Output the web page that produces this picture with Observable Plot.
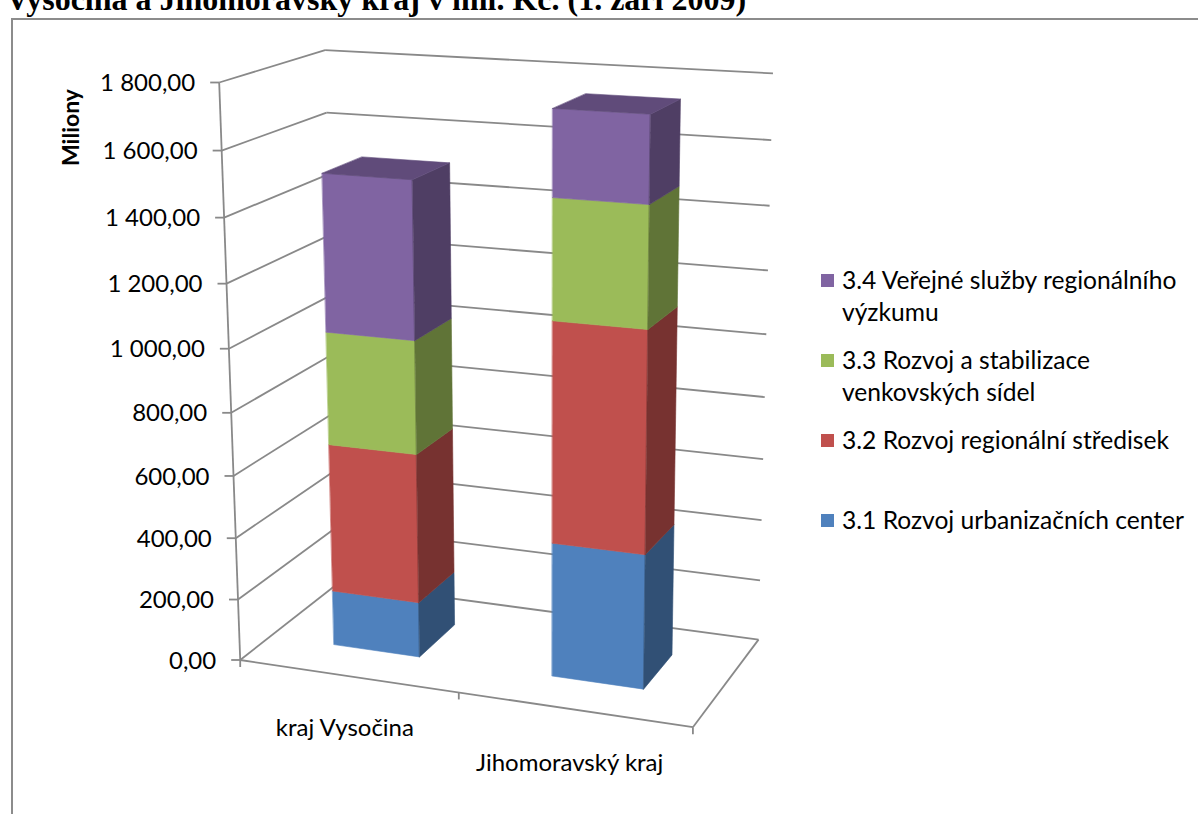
<!DOCTYPE html>
<html lang="cs">
<head>
<meta charset="utf-8">
<script src="https://cdn.jsdelivr.net/npm/d3@7"></script>
<script src="https://cdn.jsdelivr.net/npm/@observablehq/plot@0.6"></script>
<style>
  html, body { margin:0; padding:0; background:#fff; }
  #wrap { position:relative; width:1198px; height:814px; overflow:hidden; background:#fff; font-family: Lato, "Open Sans", sans-serif; color:#000; }
  #title { position:absolute; left:6px; top:-17px; font: bold 32px/32px "Liberation Serif", "Times New Roman", serif; white-space:nowrap; }
  #frame { position:absolute; left:11px; top:18px; width:1400px; height:1000px; border-left:2px solid #8c8c8c; border-top:2px solid #8c8c8c; }
  #chart { position:absolute; left:0; top:0; }
  #legend { position:absolute; left:821px; top:0; width:377px; height:814px; }
  .item { position:absolute; left:0; }
  .sw { position:absolute; left:0; top:10px; width:13px; height:13px; }
  .lab { position:absolute; left:21px; top:0; width:352px; font-size:24.6px; line-height:32px; white-space:normal; }
</style>
</head>
<body>
<div id="wrap">
  <div id="frame"></div>
  <div id="title">Vysočina a Jihomoravský kraj v mil. Kč. (1. září 2009)</div>
  <div id="chart"></div>
  <div id="legend"></div>
</div>
<script>
// ---------------- data ----------------
const categories = ["kraj Vysočina", "Jihomoravský kraj"];
const seriesNames = [
  "3.1 Rozvoj urbanizačních center",
  "3.2 Rozvoj regionální středisek",
  "3.3 Rozvoj a stabilizace venkovských sídel",
  "3.4 Veřejné služby regionálního výzkumu"
];
const seriesColors = ["#4F81BD", "#C0504D", "#9BBB59", "#8064A2"];
const urbanizacniCentra = [180, 429];     // 3.1
const regionalniStrediska = [480, 689];   // 3.2
const venkovskaSidla = [358, 367];        // 3.3
const regionalniVyzkum = [490, 259];      // 3.4
const valueTicks = [0, 200, 400, 600, 800, 1000, 1200, 1400, 1600, 1800];
const yTitle = "Miliony";

const seriesValues = [urbanizacniCentra, regionalniStrediska, venkovskaSidla, regionalniVyzkum];

// ---------------- 3-D view (perspective camera fitted to the plot box corners) ----------------
const W = 1198, H = 814, VMAX = 1800;
// box corner (u across categories 0..1, value, w depth 0..1) -> page position
const view = [
  [0, 1800, 0, 221, 82],
  [0, 0, 0, 237, 662],
  [0, 1800, 1, 322, 50],
  [1, 1800, 1, 773, 72.5],
  [1, 0, 0, 693, 724],
  [1, 0, 1, 757, 642],
  [0, 0, 1, 340.6, 580]
];
const barHalfWidth = 0.1, barDepth = [0.3, 0.7];

function solveCamera(pts) {
  const rows = [], rhs = [];
  for (const [u, v, w, x0, y0] of pts) {
    const V = v / VMAX, x = x0 / 1000, y = y0 / 1000;
    rows.push([u, V, w, 1, 0, 0, 0, 0, -x * u, -x * V, -x * w]); rhs.push(x);
    rows.push([0, 0, 0, 0, u, V, w, 1, -y * u, -y * V, -y * w]); rhs.push(y);
  }
  const n = 11;
  const M = Array.from({length: n}, () => new Array(n + 1).fill(0));
  rows.forEach((r, k) => {
    for (let i = 0; i < n; i++) {
      for (let j = 0; j < n; j++) M[i][j] += r[i] * r[j];
      M[i][n] += r[i] * rhs[k];
    }
  });
  for (let i = 0; i < n; i++) {
    let p = i;
    for (let k = i + 1; k < n; k++) if (Math.abs(M[k][i]) > Math.abs(M[p][i])) p = k;
    [M[i], M[p]] = [M[p], M[i]];
    for (let k = 0; k < n; k++) {
      if (k === i) continue;
      const f = M[k][i] / M[i][i];
      for (let j = i; j <= n; j++) M[k][j] -= f * M[i][j];
    }
  }
  return M.map((row, i) => row[n] / row[i]);
}
const C = solveCamera(view);
function proj(u, v, w) {
  const V = v / VMAX;
  const d = C[8] * u + C[9] * V + C[10] * w + 1;
  return [
    (C[0] * u + C[1] * V + C[2] * w + C[3]) / d * 1000,
    (C[4] * u + C[5] * V + C[6] * w + C[7]) / d * 1000
  ];
}

// ---------------- walls, floor, axes ----------------
const segs = [];
const seg = (a, b) => segs.push({x1: a[0], y1: a[1], x2: b[0], y2: b[1]});
for (const t of valueTicks) {
  seg(proj(0, t, 0), proj(0, t, 1));   // left wall
  seg(proj(0, t, 1), proj(1, t, 1));   // back wall
}
seg(proj(0, 0, 0), proj(1, 0, 0));     // floor front
seg(proj(1, 0, 0), proj(1, 0, 1));     // floor right
seg(proj(0, 0, 0), proj(0, VMAX, 0));  // value axis

const valueTickRows = valueTicks.map(t => { const p = proj(0, t, 0); return {t, x: p[0], y: p[1]}; });
const catTickRows = [0, 0.5, 1].map(u => { const p = proj(u, 0, 0); return {x: p[0], y: p[1]}; });

// ---------------- bars ----------------
const shade = (c, k) => { const r = d3.rgb(c); return d3.rgb(r.r * k, r.g * k, r.b * k).formatHex(); };
const faces = [];
let fid = 0;
function face(pts, color) {
  const id = fid++;
  for (const p of pts) faces.push({id, x: p[0], y: p[1], color});
}
categories.forEach((cat, i) => {
  const uc = 0.25 + 0.5 * i, u0 = uc - barHalfWidth, u1 = uc + barHalfWidth;
  const [w0, w1] = barDepth;
  let base = 0;
  seriesValues.forEach((vals, s) => {
    const v0 = base, v1 = base + vals[i];
    base = v1;
    const col = seriesColors[s];
    face([proj(u0, v0, w0), proj(u1, v0, w0), proj(u1, v1, w0), proj(u0, v1, w0)], col);
    face([proj(u1, v0, w0), proj(u1, v0, w1), proj(u1, v1, w1), proj(u1, v1, w0)], shade(col, 0.62));
    if (s === seriesValues.length - 1) {
      face([proj(u0, v1, w0), proj(u1, v1, w0), proj(u1, v1, w1), proj(u0, v1, w1)], shade(col, 0.75));
    }
  });
});

const catLabelRows = categories.map((c, i) => { const p = proj(0.25 + 0.5 * i, -172, 0); return {c, x: p[0], y: p[1]}; });

const fmt = d3.formatLocale({decimal: ",", thousands: "\u00a0", grouping: [3]}).format(",.2f");

const chart = Plot.plot({
  width: W, height: H, margin: 0,
  x: {type: "identity", axis: null},
  y: {type: "identity", axis: null},
  style: {fontFamily: "Lato, 'Open Sans', sans-serif", fontSize: "24px", color: "#000", background: "transparent", overflow: "visible"},
  marks: [
    Plot.link(segs, {x1: "x1", y1: "y1", x2: "x2", y2: "y2", stroke: "#898989", strokeWidth: 1.8}),
    Plot.link(valueTickRows, {x1: d => d.x - 9, y1: "y", x2: "x", y2: "y", stroke: "#898989", strokeWidth: 1.8}),
    Plot.link(catTickRows, {x1: "x", y1: "y", x2: "x", y2: d => d.y + 7, stroke: "#898989", strokeWidth: 1.8}),
    Plot.line(faces, {x: "x", y: "y", z: "id", fill: "color", stroke: "color", strokeWidth: 0.6, curve: "linear-closed"}),
    Plot.text(valueTickRows, {x: "x", y: "y", text: d => fmt(d.t), dx: -24, dy: 1, textAnchor: "end", fontSize: 24}),
    Plot.text(catLabelRows, {x: "x", y: "y", text: "c", dx: -4, textAnchor: "middle", fontSize: 24}),
    Plot.text([yTitle], {frameAnchor: "top-left", dx: 62, dy: 127, rotate: -90, fontWeight: "bold", fontSize: 23, textAnchor: "middle"})
  ]
});
document.getElementById("chart").appendChild(chart);

// ---------------- legend ----------------
const legend = document.getElementById("legend");
seriesNames.map((name, s) => ({name, color: seriesColors[s]})).reverse().forEach((d, i) => {
  const item = document.createElement("div");
  item.className = "item";
  item.style.top = (264 + i * 80) + "px";
  const sw = document.createElement("div");
  sw.className = "sw"; sw.style.background = d.color;
  const lab = document.createElement("div");
  lab.className = "lab"; lab.textContent = d.name;
  item.appendChild(sw); item.appendChild(lab);
  legend.appendChild(item);
});
</script>
</body>
</html>
